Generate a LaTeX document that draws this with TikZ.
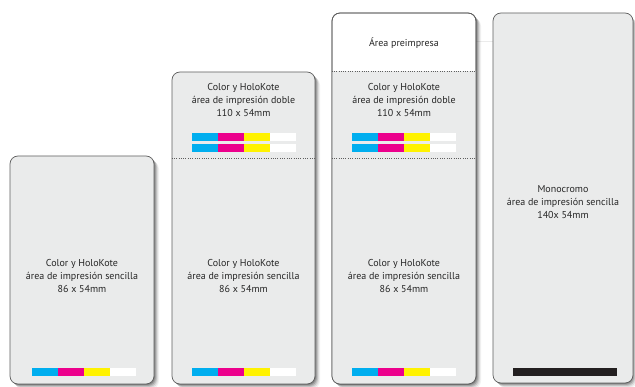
\documentclass[tikz,border=0pt]{standalone}
\usepackage{fontspec}
\setmainfont{PT Sans}
\definecolor{cardfill}{HTML}{EAEBEB}
\definecolor{cardedge}{HTML}{5E5E5E}
\definecolor{txt}{HTML}{262626}
\definecolor{cy}{HTML}{00AEEF}
\definecolor{mg}{HTML}{EC008C}
\definecolor{yl}{HTML}{FFF200}
\definecolor{blk}{HTML}{231F20}
\tikzset{
  cardbox/.style={draw=cardedge, fill=cardfill, rounded corners=8pt, line width=0.7pt, rectangle, inner sep=0pt},
  label/.style={align=center, text=txt, font=\fontsize{10}{13.4}\selectfont, inner sep=0pt},
  sep/.style={draw=cardedge, line width=0.8pt, dash pattern=on 1pt off 1.3pt}
}
\newcommand{\cardshadow}[4]{%
  \foreach \d/\o in {5/0.05,4/0.08,3/0.12,2/0.16,1/0.2}{
    \fill[black, opacity=\o, rounded corners=8pt] (#1+\d,#2+\d) rectangle (#3+\d,#4+\d);
  }}
\newcommand{\cmykbar}[2]{%
  \fill[cy] (#1,#2) rectangle ++(26,8);
  \fill[mg] (#1+26,#2) rectangle ++(26,8);
  \fill[yl] (#1+52,#2) rectangle ++(26,8);
  \fill[white] (#1+78,#2) rectangle ++(26,8);}
\begin{document}
\begin{tikzpicture}[x=1pt,y=-1pt]
\useasboundingbox (0,0) rectangle (635,387);
\fill[white] (0,0) rectangle (635,387);
% faint guide line
\draw[black!8, line width=0.8pt] (476,41) -- (493,41);
% shadows
\cardshadow{10}{156}{154}{384}
\cardshadow{172}{72}{315}{384}
\cardshadow{332}{13}{476}{384}
\cardshadow{493}{13}{632}{383}
% card 1
\node[cardbox, minimum width=144pt, minimum height=228pt] (c1) at (82,270) {};
\node[label] (t1) at (82,276) {Color y HoloKote\\área de impresión sencilla\\86 x 54mm};
\cmykbar{32}{368}
% card 2
\node[cardbox, minimum width=143pt, minimum height=312pt] (c2) at (243.5,228) {};
\draw[sep] (c2.west |- 0,158) -- (c2.east |- 0,158);
\node[label] (t2a) at (243.5,100) {Color y HoloKote\\área de impresión doble\\110 x 54mm};
\cmykbar{192}{133}
\cmykbar{192}{144}
\node[label] (t2b) at (243.5,276) {Color y HoloKote\\área de impresión sencilla\\86 x 54mm};
\cmykbar{192}{368}
% card 3
\node[cardbox, fill=white, minimum width=144pt, minimum height=371pt] (c3) at (404,198.5) {};
\begin{scope}
  \clip[rounded corners=8pt] (332,13) rectangle (476,384);
  \fill[cardfill] (332,71) rectangle (476,384);
\end{scope}
\draw[cardedge, line width=0.7pt, rounded corners=8pt] (332,13) rectangle (476,384);
\draw[sep] (c3.west |- 0,71) -- (c3.east |- 0,71);
\draw[sep] (c3.west |- 0,158) -- (c3.east |- 0,158);
\node[label] (t3p) at (404,43) {Área preimpresa};
\node[label] (t3a) at (404,100) {Color y HoloKote\\área de impresión doble\\110 x 54mm};
\cmykbar{352}{133}
\cmykbar{352}{144}
\node[label] (t3b) at (404,276) {Color y HoloKote\\área de impresión sencilla\\86 x 54mm};
\cmykbar{352}{368}
% card 4
\node[cardbox, minimum width=140pt, minimum height=370pt] (c4) at (563,198) {};
\node[label] (t4) at (563,202) {Monocromo\\área de impresión sencilla\\140x 54mm};
\fill[blk] (513,368) rectangle (617,376);
\end{tikzpicture}
\end{document}
